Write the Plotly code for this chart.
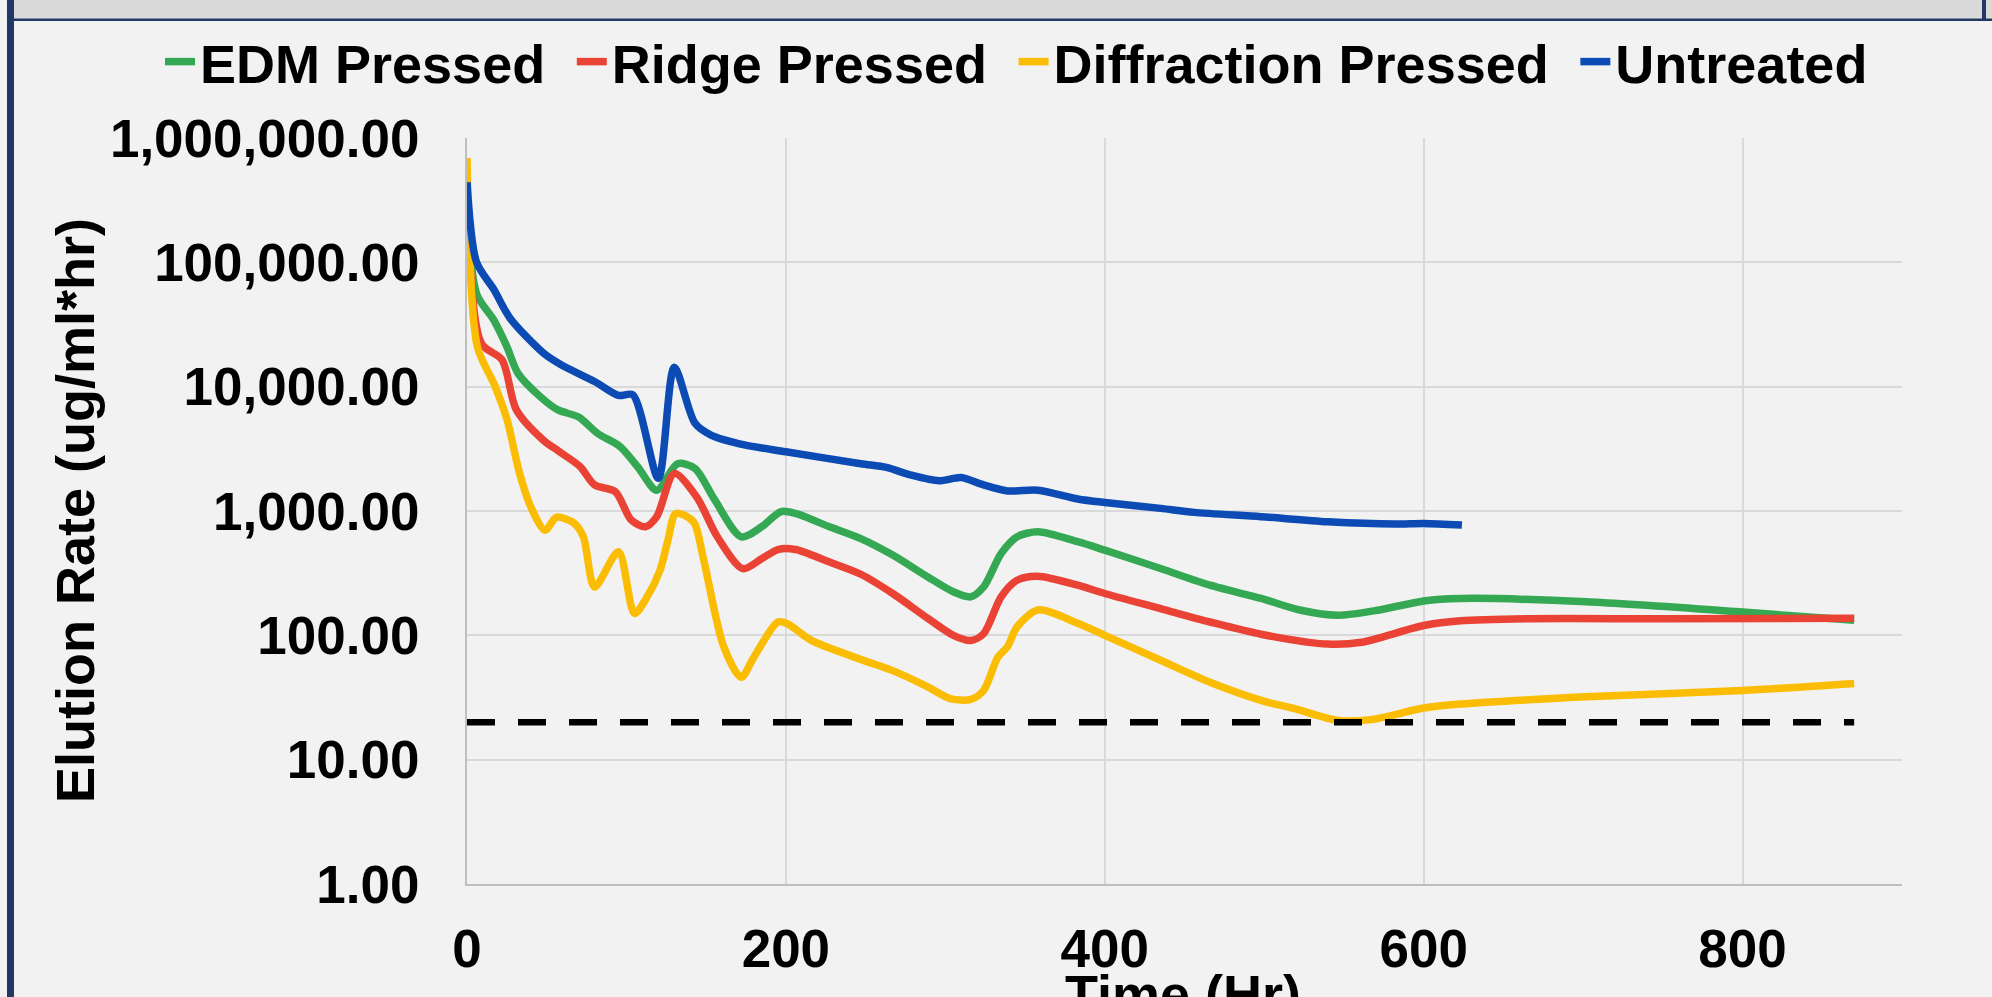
import plotly.graph_objects as go

# ---------------- data ----------------
time_edm = [0, 6, 17, 25, 32, 46, 57, 70, 82, 96, 107, 119, 132, 143, 155, 172, 185, 197,
            206, 227, 247, 267, 289, 305, 316, 324, 335, 345, 358, 383, 400, 435, 466,
            498, 523, 546, 571, 600, 623, 702, 800, 870]
rate_edm = [300000, 56000, 34000, 21000, 12800, 8300, 6500, 5700, 4200, 3300, 2270, 1470,
            2400, 2200, 1250, 620, 750, 990, 955, 750, 600, 442, 295, 224, 204, 245, 455,
            620, 680, 566, 484, 345, 253, 198, 159, 145, 159, 189, 198, 186, 154, 132]

time_ridge = [0, 9, 22, 31, 48, 58, 71, 80, 93, 103, 112, 119, 130, 144, 157, 173, 185,
              195, 206, 227, 247, 267, 289, 305, 316, 324, 335, 345, 358, 383, 400, 435,
              466, 498, 540, 561, 600, 623, 665, 750, 870]
rate_ridge = [360000, 22300, 16400, 6500, 3700, 3000, 2270, 1620, 1430, 845, 747, 900,
              2000, 1300, 620, 344, 415, 490, 490, 390, 310, 217, 137, 100, 91, 103, 204,
              277, 299, 253, 217, 164, 128, 102, 85, 88, 120, 131, 136, 136, 137]

time_diffraction = [0, 6.5, 17, 25, 33, 40, 49, 56, 67, 73, 80, 95, 105, 113, 121, 126,
                    131, 142, 148, 161, 172, 180, 195, 201, 216, 247, 267, 289, 303, 316,
                    324, 333, 339, 345, 358, 383, 400, 435, 466, 498, 519, 546, 567, 600,
                    623, 702, 800, 870]
rate_diffraction = [690000, 21000, 10500, 5500, 2000, 1080, 700, 890, 800, 620, 245, 470,
                    150, 204, 332, 580, 955, 820, 430, 81, 46, 67, 128, 124, 91, 64, 52,
                    38.5, 31, 30.5, 36, 67, 81, 117, 160, 125, 100, 63, 42, 30, 25.7, 20.7,
                    21, 26, 28, 32, 36, 41]

time_untreated = [0, 6, 17, 27, 48, 59, 80, 95, 104, 120, 130, 143, 153, 174, 200, 247,
                  263, 278, 296, 310, 322, 339, 358, 383, 400, 435, 456, 498, 540, 582,
                  600, 624]
rate_untreated = [440000, 100000, 60000, 35500, 18600, 15000, 11000, 8500, 8600, 1830,
                  14300, 5070, 4080, 3400, 3000, 2400, 2240, 1950, 1750, 1860, 1650, 1450,
                  1470, 1250, 1170, 1050, 975, 900, 820, 786, 795, 771]

threshold_time = [0, 870]
threshold_rate = [20, 20]

series_names = ["EDM Pressed", "Ridge Pressed", "Diffraction Pressed", "Untreated"]
series_colors = ["#34A853", "#EA4335", "#FBBC04", "#0B4BB3"]

y_tick_values = [1, 10, 100, 1000, 10000, 100000, 1000000]
y_tick_labels = ["1.00", "10.00", "100.00", "1,000.00", "10,000.00",
                 "100,000.00", "1,000,000.00"]
x_tick_values = [0, 200, 400, 600, 800]

# ---------------- layout geometry ----------------
W, H = 1992, 997
L, R, T, B = 467, 90, 138, 113
PW, PH = W - L - R, H - T - B
FONT = "Liberation Sans, Arial, sans-serif"
NAVY = "#1F3864"
LEGEND_PAD = "\u2009\u2009"   # extra spacing between legend entries


def px_x(px):
    return (px - L) / PW


def px_y(py):
    return (H - B - py) / PH


fig = go.Figure()
all_series = [(time_edm, rate_edm), (time_ridge, rate_ridge),
              (time_diffraction, rate_diffraction), (time_untreated, rate_untreated)]
for (tx, ry), name, color in zip(all_series, series_names, series_colors):
    fig.add_trace(go.Scatter(
        x=tx, y=ry, name=name + LEGEND_PAD, mode="lines",
        line=dict(color=color, width=7.5, shape="spline", smoothing=0.8),
    ))

fig.add_trace(go.Scatter(
    x=threshold_time, y=threshold_rate, mode="lines", showlegend=False,
    line=dict(color="black", width=6.5, dash="28px,23px"),
))

shapes = [
    # top grey band
    dict(type="rect", xref="paper", yref="paper", x0=px_x(14), x1=px_x(1992),
         y0=px_y(0), y1=px_y(18.5), fillcolor="#D9D9D9", line_width=0, layer="below"),
    # navy line under band
    dict(type="rect", xref="paper", yref="paper", x0=px_x(7), x1=px_x(1992),
         y0=px_y(18.5), y1=px_y(21), fillcolor=NAVY, line_width=0),
    # left navy frame
    dict(type="rect", xref="paper", yref="paper", x0=px_x(7), x1=px_x(14),
         y0=px_y(0), y1=px_y(997), fillcolor=NAVY, line_width=0),
    # right navy edge of top band
    dict(type="rect", xref="paper", yref="paper", x0=px_x(1982), x1=px_x(1986),
         y0=px_y(0), y1=px_y(19), fillcolor=NAVY, line_width=0),
]

annotations = [
    dict(text="Elution Rate (ug/ml*hr)", textangle=-90, xref="paper", yref="paper",
         x=px_x(75), y=px_y(510), xanchor="center", yanchor="middle", showarrow=False,
         font=dict(family=FONT, size=54, color="black", weight="bold")),
    dict(text="Time (Hr)", xref="paper", yref="paper",
         x=px_x(1183), y=px_y(962), xanchor="center", yanchor="top", showarrow=False,
         font=dict(family=FONT, size=54, color="black", weight="bold")),
]

fig.update_layout(
    width=W, height=H,
    margin=dict(l=L, r=R, t=T, b=B, pad=0, autoexpand=False),
    paper_bgcolor="#F2F2F2", plot_bgcolor="#F2F2F2",
    font=dict(family=FONT, color="black"),
    showlegend=True,
    legend=dict(orientation="h", xref="paper", yref="paper",
                x=px_x(160), xanchor="left", y=px_y(20), yanchor="top",
                bgcolor="rgba(0,0,0,0)",
                font=dict(family=FONT, size=54, color="black", weight="bold")),
    shapes=shapes,
    annotations=annotations,
    xaxis=dict(range=[0, 900], tickvals=x_tick_values, showgrid=True,
               gridcolor="#D9D9D9", gridwidth=1.5, zeroline=False,
               showline=True, linecolor="#BFBFBF", linewidth=2, ticks="",
               ticklabelstandoff=17,
               tickfont=dict(family=FONT, size=53, color="black", weight="bold")),
    yaxis=dict(type="log", range=[0, 6], tickvals=y_tick_values, ticktext=y_tick_labels,
               showgrid=True, gridcolor="#D9D9D9", gridwidth=1.5, zeroline=False,
               showline=True, linecolor="#BFBFBF", linewidth=2, ticks="",
               ticklabelstandoff=35,
               tickfont=dict(family=FONT, size=53, color="black", weight="bold")),
)

fig.write_html("out.html")
